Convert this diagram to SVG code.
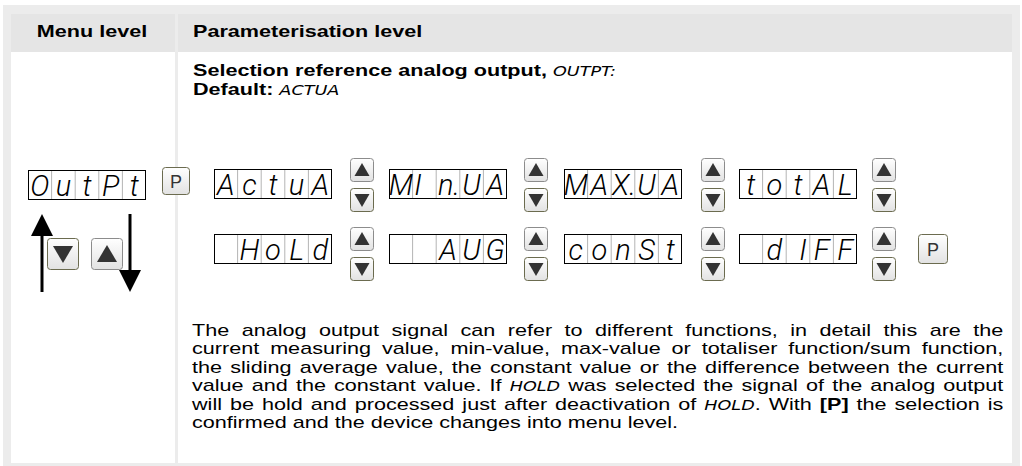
<svg xmlns="http://www.w3.org/2000/svg" width="1022" height="466" viewBox="0 0 1022 466">
<style>
.hd{font-family:"Liberation Sans",Arial,sans-serif;font-weight:bold;font-size:16px;fill:#000}
.bd{font-family:"Liberation Sans",Arial,sans-serif;font-size:16px;fill:#000}
.seg{font-family:"DejaVu Sans Condensed","DejaVu Sans",sans-serif;font-style:oblique;font-weight:normal;font-size:14.5px;word-spacing:0}
.lcd{font-family:Roboto,"DejaVu Sans",sans-serif;font-style:italic;font-weight:300;font-size:29px;fill:#000;text-anchor:middle}
.box{fill:#fff;stroke:#000;stroke-width:1}
.div{stroke:#b4b4b4;stroke-width:1}
.pbtn{fill:url(#bg);stroke:#6b6b4f;stroke-width:1}
.ptxt{font-family:"Liberation Sans",Arial,sans-serif;font-size:18px;fill:#333;text-anchor:middle}
.arr{stroke:#000;stroke-width:3;fill:none}
</style>
<defs>
<linearGradient id="bg" x1="0" y1="0" x2="0" y2="1">
<stop offset="0" stop-color="#ffffff"/><stop offset="1" stop-color="#e2e2e2"/>
</linearGradient>
<symbol id="up" viewBox="0 0 24 24" width="24" height="24">
<rect x="0.5" y="0.5" width="23" height="23" rx="3" fill="url(#bg)" stroke="#8c8c8c"/>
<polygon points="12,5 19.5,18 4.5,18" fill="#333"/>
</symbol>
<symbol id="dn" viewBox="0 0 24 24" width="24" height="24">
<rect x="0.5" y="0.5" width="23" height="23" rx="3" fill="url(#bg)" stroke="#6b6b4f"/>
<polygon points="4.5,6 19.5,6 12,19" fill="#333"/>
</symbol>
<symbol id="cells" viewBox="0 0 118 30" width="118" height="30">
<rect class="box" x="0.5" y="0.5" width="117" height="29"/>
<line class="div" x1="23.6" y1="1" x2="23.6" y2="29"/>
<line class="div" x1="47.2" y1="1" x2="47.2" y2="29"/>
<line class="div" x1="70.8" y1="1" x2="70.8" y2="29"/>
<line class="div" x1="94.4" y1="1" x2="94.4" y2="29"/>
</symbol>
</defs>
<rect x="0" y="0" width="1022" height="466" fill="#fff"/>
<g id="frame">
<rect x="3" y="5" width="1017" height="461" fill="#ececec"/>
<rect x="11" y="14" width="164" height="38" fill="#e5e5e5"/>
<rect x="178" y="14" width="834" height="38" fill="#e5e5e5"/>
<rect x="11" y="52" width="164" height="411" fill="#fff"/>
<rect x="178" y="52" width="834" height="411" fill="#fff"/>
</g>
<g id="header">
<g transform="translate(92 0) scale(1.35 1)"><text class="hd" x="0" y="37" text-anchor="middle">Menu level</text></g>
<g transform="translate(193 0) scale(1.35 1)"><text class="hd" x="0" y="37">Parameterisation level</text></g>
</g>
<g id="title" transform="translate(193 0) scale(1.35 1)">
<text class="hd" x="0" y="76">Selection reference analog output, <tspan class="seg">OUTPT:</tspan></text>
<text class="hd" x="0" y="95">Default: <tspan class="seg">ACTUA</tspan></text>
</g>
<g id="connectors">
<line class="arr" x1="42" y1="292" x2="42" y2="232"/>
<polygon points="42,214 31,236 53,236" fill="#000"/>
<line class="arr" x1="130" y1="214" x2="130" y2="272"/>
<polygon points="130,292 119,270 141,270" fill="#000"/>
</g>
<g id="n-outpt">
<use href="#cells" x="28" y="170"/>
<text class="lcd" y="196"><tspan x="39.8">O</tspan><tspan x="63.4">u</tspan><tspan x="87">t</tspan><tspan x="110.6">P</tspan><tspan x="134.2">t</tspan></text>
</g>
<g id="n-p1">
<rect class="pbtn" x="162.5" y="167.5" width="27" height="27" rx="3"/>
<text class="ptxt" x="176" y="188">P</text>
</g>
<g id="n-keys">
<rect x="47.5" y="238.5" width="31" height="31" rx="3" fill="url(#bg)" stroke="#6b6b4f"/>
<polygon points="53,246 73,246 63,263" fill="#333"/>
<rect x="91.5" y="238.5" width="31" height="31" rx="3" fill="url(#bg)" stroke="#8c8c8c"/>
<polygon points="107,245 117,262 97,262" fill="#333"/>
</g>
<g id="n-actua">
<use href="#cells" x="214" y="169"/>
<text class="lcd" y="195"><tspan x="225.8">A</tspan><tspan x="249.4">c</tspan><tspan x="273">t</tspan><tspan x="296.6">u</tspan><tspan x="320.2">A</tspan></text>
</g>
<g id="n-ud1"><use href="#up" x="350" y="158"/><use href="#dn" x="350" y="188"/></g>
<g id="n-minua">
<use href="#cells" x="389" y="169"/>
<text class="lcd" y="195"><tspan x="400.8">M</tspan><tspan x="418">I</tspan><tspan x="449">n.</tspan><tspan x="471.6">U</tspan><tspan x="495.2">A</tspan></text>
</g>
<g id="n-ud2"><use href="#up" x="524" y="158"/><use href="#dn" x="524" y="188"/></g>
<g id="n-maxua">
<use href="#cells" x="564" y="169"/>
<text class="lcd" y="195"><tspan x="575.8">M</tspan><tspan x="599.4">A</tspan><tspan x="624">X.</tspan><tspan x="646.6">U</tspan><tspan x="670.2">A</tspan></text>
</g>
<g id="n-ud3"><use href="#up" x="701" y="158"/><use href="#dn" x="701" y="188"/></g>
<g id="n-total">
<use href="#cells" x="739" y="169"/>
<text class="lcd" y="195"><tspan x="750.8">t</tspan><tspan x="774.4">o</tspan><tspan x="798">t</tspan><tspan x="821.6">A</tspan><tspan x="845.2">L</tspan></text>
</g>
<g id="n-ud4"><use href="#up" x="872" y="158"/><use href="#dn" x="872" y="188"/></g>
<g id="n-hold">
<use href="#cells" x="214" y="234"/>
<text class="lcd" y="260"><tspan x="249.4">H</tspan><tspan x="273">o</tspan><tspan x="296.6">L</tspan><tspan x="320.2">d</tspan></text>
</g>
<g id="n-ud5"><use href="#up" x="350" y="227"/><use href="#dn" x="350" y="257"/></g>
<g id="n-aug">
<use href="#cells" x="389" y="234"/>
<text class="lcd" y="260"><tspan x="448">A</tspan><tspan x="471.6">U</tspan><tspan x="495.2">G</tspan></text>
</g>
<g id="n-ud6"><use href="#up" x="524" y="227"/><use href="#dn" x="524" y="257"/></g>
<g id="n-const">
<use href="#cells" x="564" y="234"/>
<text class="lcd" y="260"><tspan x="575.8">c</tspan><tspan x="599.4">o</tspan><tspan x="623">n</tspan><tspan x="646.6">S</tspan><tspan x="670.2">t</tspan></text>
</g>
<g id="n-ud7"><use href="#up" x="701" y="227"/><use href="#dn" x="701" y="257"/></g>
<g id="n-diff">
<use href="#cells" x="739" y="234"/>
<text class="lcd" y="260"><tspan x="774.4">d</tspan><tspan x="803">I</tspan><tspan x="821.6">F</tspan><tspan x="845.2">F</tspan></text>
</g>
<g id="n-ud8"><use href="#up" x="872" y="227"/><use href="#dn" x="872" y="257"/></g>
<g id="n-p2">
<rect class="pbtn" x="918.5" y="234.5" width="29" height="29" rx="3"/>
<text class="ptxt" x="933" y="256">P</text>
</g>
<g id="text" transform="translate(192 0) scale(1.35 1)">
<text class="bd" x="0" y="336" word-spacing="4.77" textLength="601" lengthAdjust="spacing">The analog output signal can refer to different functions, in detail this are the</text>
<text class="bd" x="0" y="354.5" word-spacing="3.65" textLength="601" lengthAdjust="spacing">current measuring value, min-value, max-value or totaliser function/sum function,</text>
<text class="bd" x="0" y="373" word-spacing="1.49" textLength="601" lengthAdjust="spacing">the sliding average value, the constant value or the difference between the current</text>
<text class="bd" x="0" y="391.5" word-spacing="1.57" textLength="601" lengthAdjust="spacing">value and the constant value. If <tspan class="seg">HOLD</tspan> was selected the signal of the analog output</text>
<text class="bd" x="0" y="410" word-spacing="1.45" textLength="601" lengthAdjust="spacing">will be hold and processed just after deactivation of <tspan class="seg">HOLD</tspan>. With <tspan font-weight="bold">[P]</tspan> the selection is</text>
<text class="bd" x="0" y="428.5">confirmed and the device changes into menu level.</text>
</g>
</svg>
